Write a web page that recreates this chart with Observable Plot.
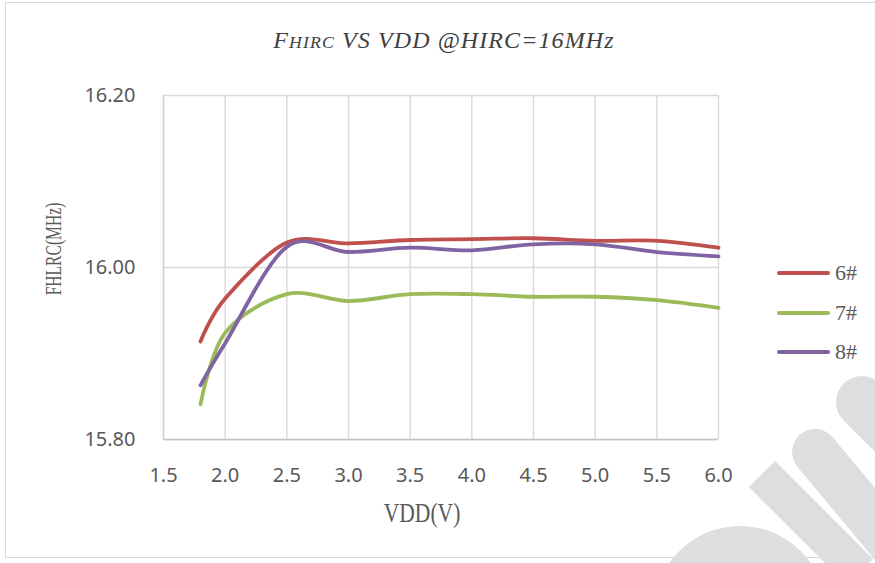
<!DOCTYPE html>
<html>
<head>
<meta charset="utf-8">
<script src="https://cdn.jsdelivr.net/npm/d3@7"></script>
<script src="https://cdn.jsdelivr.net/npm/@observablehq/plot@0.6"></script>
<style>
  html, body { margin: 0; padding: 0; background: #fff; }
  #wrap { position: relative; width: 875px; height: 563px; overflow: hidden; background: #fff; }
  #frame { position: absolute; left: 5px; top: 2px; width: 900px; height: 556px; border: 1px solid #d9d9d9; box-sizing: border-box; }
  #wm { position: absolute; left: 0; top: 0; }
  #plot { position: absolute; left: 0; top: 0; }
  #title { position: absolute; left: 444px; top: 28px; transform: translateX(-50%); font: italic 24px "Liberation Serif"; letter-spacing: 1.1px; color: #404040; white-space: nowrap; line-height: 24px; }
  #title .sc { font-size: 0.74em; }
  #xlabel { position: absolute; left: 422px; top: 499px; transform: translateX(-50%) scaleX(0.77); font: 28px "Liberation Serif"; color: #595959; white-space: nowrap; line-height: 28px; }
  #ylabel { position: absolute; left: 53px; top: 249px; transform: translate(-50%, -50%) rotate(-90deg) scaleX(0.65); font: 24px "Liberation Serif"; color: #595959; white-space: nowrap; line-height: 24px; }
  .leg { position: absolute; left: 777px; height: 22px; display: flex; align-items: center; }
  .leg .sw { width: 53px; height: 4px; border-radius: 2px; }
  .leg .lb { margin-left: 5px; font: 22px "Liberation Serif"; color: #595959; line-height: 22px; }
</style>
</head>
<body>
<div id="wrap">
  <div id="frame"></div>
  <svg id="wm" width="875" height="563">
    <g fill="#dedede" stroke="none">
      <circle cx="740" cy="612" r="86"></circle>
    </g>
    <g stroke="#dedede" fill="none">
      <line x1="762" y1="474" x2="860" y2="572" stroke-width="37" stroke-linecap="butt"></line>
      <line x1="815" y1="452" x2="905" y2="560" stroke-width="46" stroke-linecap="round"></line>
      <line x1="862" y1="402" x2="940" y2="480" stroke-width="52" stroke-linecap="round"></line>
    </g>
  </svg>
  <div id="plot"></div>
  <div id="title">F<span class="sc">HIRC</span> VS VDD @HIRC=16MHz</div>
  <div id="xlabel">VDD(V)</div>
  <div id="ylabel">FHLRC(MHz)</div>
  <div id="legend"></div>
</div>
<script>
// ---- data ----
const vdd = [1.8, 2.0, 2.5, 3.0, 3.5, 4.0, 4.5, 5.0, 5.5, 6.0];
const f6 = [15.914, 15.964, 16.029, 16.028, 16.032, 16.033, 16.034, 16.031, 16.031, 16.023];
const f7 = [15.841, 15.924, 15.969, 15.961, 15.969, 15.969, 15.966, 15.966, 15.962, 15.953];
const f8 = [15.863, 15.912, 16.024, 16.018, 16.023, 16.020, 16.027, 16.027, 16.018, 16.013];
const seriesNames = ["6#", "7#", "8#"];
const seriesColors = ["#c0504d", "#9bbb59", "#8064a2"];
const xTicks = [1.5, 2.0, 2.5, 3.0, 3.5, 4.0, 4.5, 5.0, 5.5, 6.0];
const yTicks = [15.8, 16.0, 16.2];

const seriesValues = [f6, f7, f8];
const rows = seriesNames.flatMap((s, k) => vdd.map((v, i) => ({ vdd: v, f: seriesValues[k][i], s })));

const chart = Plot.plot({
  width: 875,
  height: 563,
  marginLeft: 163,
  marginRight: 157,
  marginTop: 95,
  marginBottom: 124,
  style: { fontFamily: "'Noto Sans', sans-serif", fontSize: "20px", color: "#595959", background: "transparent", overflow: "visible" },
  x: { domain: [1.5, 6.0] },
  y: { domain: [15.8, 16.2] },
  color: { domain: seriesNames, range: seriesColors },
  marks: [
    Plot.gridX(xTicks, { stroke: "#d9d9d9", strokeOpacity: 1, strokeWidth: 1.4 }),
    Plot.gridY(yTicks, { stroke: "#d9d9d9", strokeOpacity: 1, strokeWidth: 1.4 }),
    Plot.ruleY([15.8], { stroke: "#c4c4c4", strokeWidth: 1.4 }),
    Plot.ruleX([1.5], { stroke: "#d0d0d0", strokeWidth: 1.4 }),
    Plot.axisX(xTicks, { tickSize: 0, tickPadding: 28, tickFormat: d => d.toFixed(1), label: null, fontSize: 20, color: "#595959" }),
    Plot.axisY(yTicks, { tickSize: 0, tickPadding: 28, tickFormat: d => d.toFixed(2), label: null, fontSize: 20, color: "#595959" }),
    Plot.line(rows, { x: "vdd", y: "f", z: "s", stroke: "s", curve: "cardinal", strokeWidth: 3.8, strokeLinecap: "round", strokeLinejoin: "round" })
  ]
});
document.getElementById("plot").appendChild(chart);

// legend
const legend = document.getElementById("legend");
seriesNames.forEach((name, i) => {
  const item = document.createElement("div");
  item.className = "leg";
  item.style.top = (262 + i * 39.5) + "px";
  const sw = document.createElement("div");
  sw.className = "sw";
  sw.style.background = seriesColors[i];
  const lb = document.createElement("span");
  lb.className = "lb";
  lb.textContent = name;
  item.appendChild(sw);
  item.appendChild(lb);
  legend.appendChild(item);
});
</script>
</body>
</html>
